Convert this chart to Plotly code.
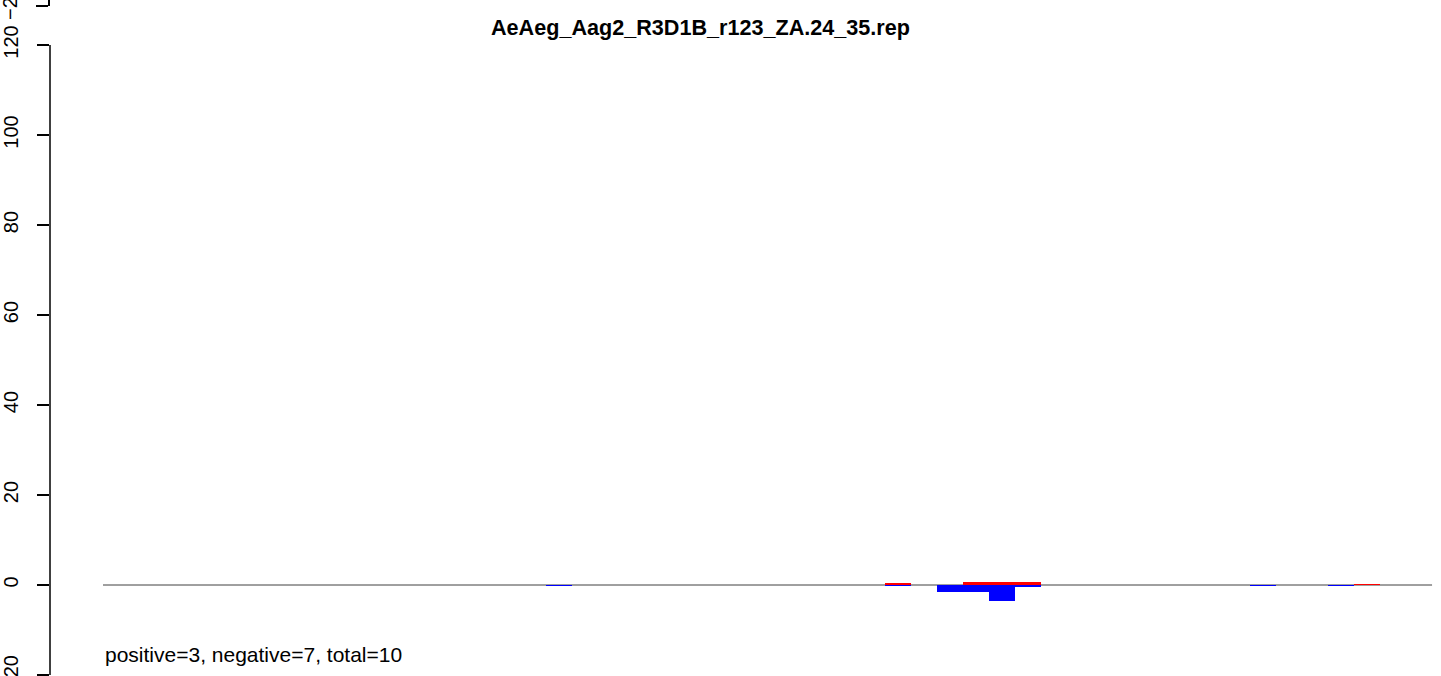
import plotly.graph_objects as go

# ---- data ----
positions = list(range(51))
pos_vals = [0.0] * 51
neg_vals = [0.0] * 51
pos_idx = [30, 33, 34, 35, 48]
pos_v = [0.25, 0.72, 0.72, 0.72, 0.15]
neg_idx = [17, 30, 32, 33, 34, 35, 44, 47]
neg_v = [-0.2, -0.2, -1.65, -1.65, -3.65, -0.3, -0.2, -0.2]
for i, v in zip(pos_idx, pos_v):
    pos_vals[i] = v
for i, v in zip(neg_idx, neg_v):
    neg_vals[i] = v

title_text = "AeAeg_Aag2_R3D1B_r123_ZA.24_35.rep"
summary_text = "positive=3, negative=7, total=10"
y_ticks = [-20, 0, 20, 40, 60, 80, 100, 120]
prev_ticks = [-20]

W, H = 1441, 676
ML = 50
FONT = "Liberation Sans, Arial, Helvetica, sans-serif"

fig = go.Figure()
fig.add_trace(go.Bar(x=positions, y=neg_vals, width=1, marker=dict(color="#0000FF", line=dict(width=0)),
                     showlegend=False, hoverinfo="skip"))
fig.add_trace(go.Bar(x=positions, y=pos_vals, width=1, marker=dict(color="#FF0000", line=dict(width=0)),
                     showlegend=False, hoverinfo="skip"))
# remnant of previous panel's axis (top)
fig.add_trace(go.Scatter(x=[], y=[], xaxis="x", yaxis="y2", showlegend=False))

fig.update_layout(
    width=W, height=H,
    margin=dict(l=ML, r=0, t=0, b=0, autoexpand=False),
    paper_bgcolor="white", plot_bgcolor="white",
    barmode="overlay", bargap=0,
    font=dict(family=FONT, color="black"),
    xaxis=dict(range=[-2.534, 50.843], visible=False, fixedrange=True),
    yaxis=dict(range=[-20.222, 130], tickvals=y_ticks, ticks="outside", ticklen=12, tickwidth=1.5,
               tickcolor="black", showgrid=False, zeroline=False, showline=False,
               tickangle=-90, tickfont=dict(size=20, family=FONT, color="black"),
               ticklabelstandoff=11, ticklabeloverflow="allow", fixedrange=True),
    yaxis2=dict(domain=[1 - 6 / H, 1], range=[-20.3, 0], tickvals=prev_ticks, ticks="outside", ticklen=12,
                tickwidth=1.5, tickcolor="black", showgrid=False, zeroline=False, showline=True,
                linecolor="black", linewidth=1.5, anchor="x",
                tickangle=-90, tickfont=dict(size=20, family=FONT, color="black"),
                ticklabelstandoff=11, ticklabeloverflow="allow", fixedrange=True),
)

# y axis line spanning first to last tick (R style)
fig.add_shape(type="line", xref="paper", yref="y", x0=0, x1=0, y0=min(y_ticks), y1=max(y_ticks),
              line=dict(color="black", width=1.5))
# zero reference line
fig.add_shape(type="line", xref="x", yref="y", x0=-0.5, x1=50.5, y0=0, y1=0,
              line=dict(color="#404040", width=1), layer="below")

fig.add_annotation(text="<b>" + title_text + "</b>", xref="paper", yref="paper",
                   x=(700 - ML) / (W - ML), y=1 - 27 / H, xanchor="center", yanchor="middle",
                   showarrow=False, font=dict(size=21.6, family=FONT, color="black"))
fig.add_annotation(text=summary_text, xref="x", yref="y", x=-0.5, y=-15.4,
                   xanchor="left", yanchor="middle", showarrow=False,
                   font=dict(size=21, family=FONT, color="black"))

fig.write_html("out.html", config={"displayModeBar": False},
               post_script="document.body.style.margin='0';document.body.style.overflow='hidden';")
